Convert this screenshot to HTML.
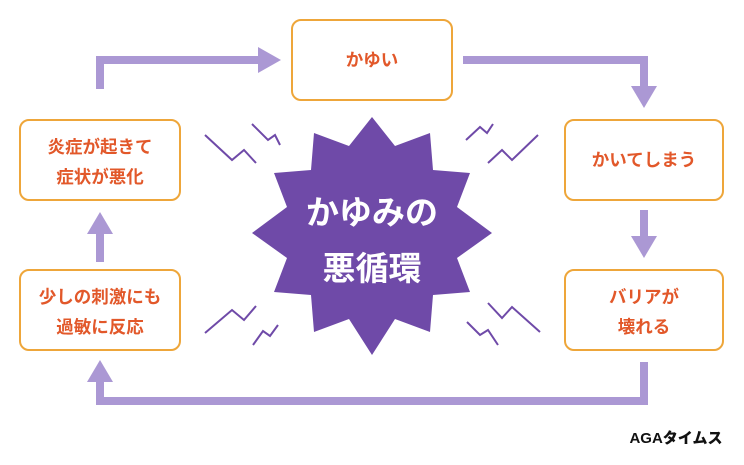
<!DOCTYPE html>
<html><head><meta charset="utf-8"><style>
html,body{margin:0;padding:0;background:#fff;}
svg{display:block}
text{font-family:"Liberation Sans","Noto Sans CJK JP",sans-serif;}
</style></head><body>
<svg width="744" height="465" viewBox="0 0 744 465" xmlns="http://www.w3.org/2000/svg">
<g fill="none" stroke="#ab98d4" stroke-width="8">
<polyline points="100,89 100,60 262,60"/>
<polyline points="463,60 644,60 644,88"/>
<line x1="644" y1="210" x2="644" y2="238"/>
<polyline points="644,362 644,401 100,401 100,380"/>
<line x1="100" y1="262" x2="100" y2="232"/>
</g>
<g fill="#ab98d4">
<polygon points="258,47 281,60 258,73"/>
<polygon points="631,86 657,86 644,108"/>
<polygon points="631,236 657,236 644,258"/>
<polygon points="87,382 113,382 100,360"/>
<polygon points="87,234 113,234 100,212"/>
</g>
<g fill="#fff" stroke="#eea63a" stroke-width="2">
<rect x="292" y="20" width="160" height="80" rx="9"/>
<rect x="20" y="120" width="160" height="80" rx="9"/>
<rect x="20" y="270" width="160" height="80" rx="9"/>
<rect x="565" y="120" width="158" height="80" rx="9"/>
<rect x="565" y="270" width="158" height="80" rx="9"/>
</g>
<g fill="#e2582a" font-size="17.5" font-weight="bold" text-anchor="middle">
<text x="372" y="66">かゆい</text>
<text x="100" y="153">炎症が起きて</text>
<text x="100" y="183">症状が悪化</text>
<text x="100" y="303">少しの刺激にも</text>
<text x="100" y="333">過敏に反応</text>
<text x="644" y="166">かいてしまう</text>
<text x="644" y="303">バリアが</text>
<text x="644" y="333">壊れる</text>
</g>
<polygon fill="#6f4aa8" points="372,117 395,146 430,133 433,170 470,173 457,207 492,233 457,258 470,292 433,295 430,332 395,319 372,355 349,319 314,332 311,295 274,292 287,258 252,233 287,207 274,173 311,170 314,133 349,146"/>
<g fill="#fff" font-size="33" font-weight="bold" text-anchor="middle">
<text x="372" y="224">かゆみの</text>
<text x="372" y="280">悪循環</text>
</g>
<g fill="none" stroke="#6f4aa8" stroke-width="2">
<polyline points="205,135 232,160 244,150 256,163"/>
<polyline points="252,124 268,140 275,135 280,145"/>
<polyline points="466,140 480,127 487,133 493,124"/>
<polyline points="488,163 502,150 512,160 538,135"/>
<polyline points="205,333 232,310 244,320 256,306"/>
<polyline points="253,345 263,331 270,336 278,325"/>
<polyline points="467,322 480,335 488,330 498,345"/>
<polyline points="488,303 502,318 512,307 540,332"/>
</g>
<text x="676" y="443" font-size="15" font-weight="900" fill="#111" text-anchor="middle">AGAタイムス</text>
</svg>
</body></html>
